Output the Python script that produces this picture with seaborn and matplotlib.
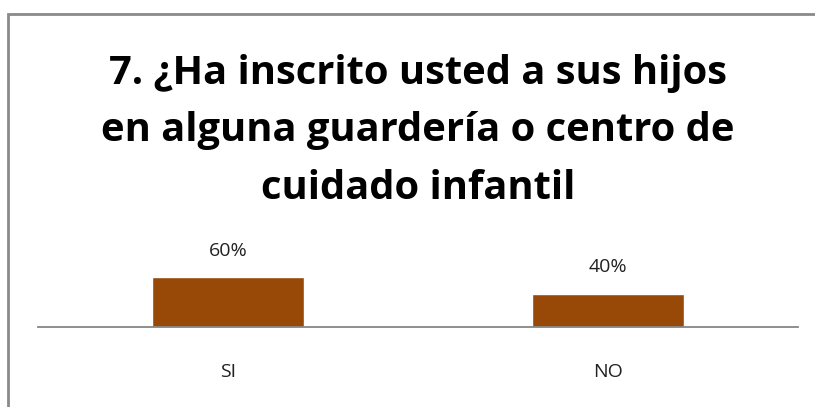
import matplotlib
matplotlib.use("Agg")
import matplotlib.pyplot as plt
import seaborn as sns
import pandas as pd
from matplotlib.patches import Rectangle

categories = ["SI", "NO"]
values = [0.60, 0.40]
labels = ["60%", "40%"]
title = "7. ¿Ha inscrito usted a sus hijos\nen alguna guardería o centro de\ncuidado infantil"

df = pd.DataFrame({"cat": categories, "val": values})

sns.set_style("white")
plt.rcParams["font.family"] = ["Open Sans", "DejaVu Sans"]

fig = plt.figure(figsize=(8.15, 4.07), dpi=100)
ax = fig.add_axes([38 / 815, 1 - 327 / 407, 760 / 815, 87 / 407])

sns.barplot(data=df, x="cat", y="val", color="#984807", saturation=1,
            width=0.4, ax=ax)

ax.set_xlim(-0.5, 1.5)
ax.set_ylim(0, 1.044)
for i, v in enumerate(values):
    ax.text(i, v + 0.21, labels[i], ha="center", va="bottom", fontsize=14, color="#222222")

for s in ["top", "left", "right"]:
    ax.spines[s].set_visible(False)
ax.spines["bottom"].set_color("#868686")
ax.spines["bottom"].set_linewidth(1.3)
ax.set_yticks([])
ax.set_xlabel("")
ax.set_ylabel("")
ax.tick_params(axis="x", length=0, pad=26, labelsize=14, labelcolor="#222222")

fig.text(418 / 815, 1 - 131 / 407, title, ha="center", va="center",
         fontsize=28.7, fontweight="bold", linespacing=1.62, color="black")

fig.patches.append(Rectangle((8 / 815, -0.05), 1.0, 1 - 14 / 407 + 0.05,
                             transform=fig.transFigure, fill=False,
                             edgecolor="#8a8a8a", linewidth=2))

fig.savefig("out.png", dpi=100)
